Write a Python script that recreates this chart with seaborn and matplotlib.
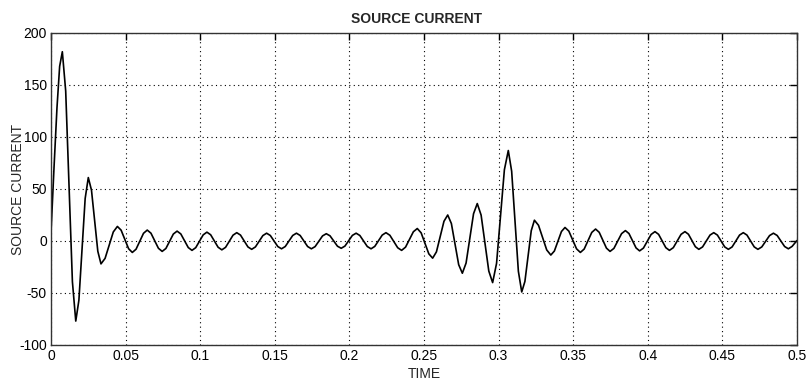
import matplotlib
matplotlib.use("Agg")
import matplotlib.pyplot as plt
import seaborn as sns
import pandas as pd

# Time (s) and source current values
time_s = [
    0.0, 0.002, 0.004, 0.0058, 0.0076,
    0.00985, 0.0121, 0.01435, 0.0166,
    0.0187, 0.0208, 0.0229, 0.025,
    0.02713, 0.02925, 0.03138, 0.0335,
    0.03625, 0.039, 0.04175, 0.0445,
    0.047, 0.0495, 0.052, 0.0545,
    0.057, 0.0595, 0.062, 0.0645,
    0.067, 0.0695, 0.072, 0.0745,
    0.077, 0.0795, 0.082, 0.0845,
    0.087, 0.0895, 0.092, 0.0945,
    0.097, 0.0995, 0.102, 0.1045,
    0.107, 0.1095, 0.112, 0.1145,
    0.117, 0.1195, 0.122, 0.1245,
    0.127, 0.1295, 0.132, 0.1345,
    0.137, 0.1395, 0.142, 0.1445,
    0.147, 0.1495, 0.152, 0.1545,
    0.157, 0.1595, 0.162, 0.1645,
    0.167, 0.1695, 0.172, 0.1745,
    0.177, 0.1795, 0.182, 0.1845,
    0.187, 0.1895, 0.192, 0.1945,
    0.197, 0.1995, 0.202, 0.2045,
    0.207, 0.2095, 0.212, 0.2145,
    0.217, 0.2195, 0.222, 0.2245,
    0.22713, 0.22975, 0.23238, 0.235,
    0.23763, 0.24025, 0.24288, 0.2455,
    0.24808, 0.25065, 0.25323, 0.2558,
    0.25833, 0.26085, 0.26338, 0.2659,
    0.26835, 0.2708, 0.27325, 0.2757,
    0.2782, 0.2807, 0.2832, 0.2857,
    0.28828, 0.29085, 0.29343, 0.296,
    0.29863, 0.30125, 0.30388, 0.3065,
    0.30875, 0.311, 0.31325, 0.3155,
    0.31763, 0.31975, 0.32188, 0.324,
    0.32675, 0.3295, 0.33225, 0.335,
    0.33738, 0.33975, 0.34213, 0.3445,
    0.34708, 0.34965, 0.35223, 0.3548,
    0.35735, 0.3599, 0.36245, 0.365,
    0.36743, 0.36985, 0.37228, 0.3747,
    0.37728, 0.37985, 0.38243, 0.385,
    0.38738, 0.38975, 0.39213, 0.3945,
    0.39708, 0.39965, 0.40223, 0.4048,
    0.40723, 0.40965, 0.41208, 0.4145,
    0.4171, 0.4197, 0.4223, 0.4249,
    0.42723, 0.42955, 0.43188, 0.4342,
    0.4367, 0.4392, 0.4417, 0.4442,
    0.44665, 0.4491, 0.45155, 0.454,
    0.4565, 0.459, 0.4615, 0.464,
    0.46645, 0.4689, 0.47135, 0.4738,
    0.4764, 0.479, 0.4816, 0.4842,
    0.4867, 0.4892, 0.4917, 0.4942,
    0.4967, 0.5,
]
current_a = [
    8, 70, 128, 168, 182,
    144.2, 52.5, -39.2, -77,
    -56.9, -8, 40.9, 61,
    48.9, 19.5, -9.9, -22,
    -16.7, -4, 8.7, 14,
    10.4, 1.5, -7.4, -11,
    -7.9, -0.25, 7.4, 10.5,
    7.5, 0.25, -7.0, -10,
    -7.2, -0.25, 6.7, 9.5,
    6.8, 0.25, -6.3, -9,
    -6.4, -0.25, 5.9, 8.5,
    6.0, 0, -6.0, -8.5,
    -6.1, -0.25, 5.6, 8,
    5.7, 0, -5.7, -8,
    -5.7, -0.25, 5.2, 7.5,
    5.3, 0, -5.3, -7.5,
    -5.3, 0, 5.3, 7.5,
    5.3, 0, -5.3, -7.5,
    -5.4, -0.25, 4.9, 7,
    5.0, 0, -5.0, -7,
    -4.9, 0.25, 5.4, 7.5,
    5.3, 0, -5.3, -7.5,
    -5.2, 0.25, 5.7, 8,
    5.5, -0.5, -6.5, -9,
    -5.9, 1.5, 8.9, 12,
    7.85, -2.25, -12.35, -16.5,
    -10.45, 4.25, 18.95, 25,
    16.8, -3, -22.8, -31,
    -21.2, 2.5, 26.2, 36,
    24.9, -2, -28.9, -40,
    -21.5, 23.5, 68.5, 87,
    67.1, 19, -29.1, -49,
    -38.9, -14.5, 9.9, 20,
    15.1, 3.25, -8.6, -13.5,
    -9.65, -0.25, 9.15, 13,
    9.5, 1, -7.5, -11,
    -7.75, 0.25, 8.25, 11.5,
    8.35, 0.75, -6.85, -10,
    -7.1, 0, 7.1, 10,
    7.15, 0.25, -6.65, -9.5,
    -6.8, -0.25, 6.3, 9,
    6.4, 0, -6.4, -9,
    -6.4, 0, 6.4, 9,
    6.5, 0.5, -5.5, -8,
    -5.7, 0, 5.7, 8,
    5.7, 0, -5.7, -8,
    -5.7, 0, 5.7, 8,
    5.7, 0, -5.7, -8,
    -5.7, -0.25, 5.2, 7.5,
    5.3, 0, -5.3, -7.5,
    -5.2, 0.5,
]

x_ticks = [0, 0.05, 0.1, 0.15, 0.2, 0.25, 0.3, 0.35, 0.4, 0.45, 0.5]
x_tick_labels = ["0", "0.05", "0.1", "0.15", "0.2", "0.25", "0.3", "0.35", "0.4", "0.45", "0.5"]
y_ticks = [-100, -50, 0, 50, 100, 150, 200]
y_tick_labels = ["-100", "-50", "0", "50", "100", "150", "200"]

sns.set_style("white")
plt.rcParams["font.family"] = ["Liberation Sans", "DejaVu Sans"]

df = pd.DataFrame({"TIME": time_s, "SOURCE CURRENT": current_a})

fig = plt.figure(figsize=(8.08, 3.83), dpi=100)
ax = fig.add_axes([51 / 808, 1 - 345 / 383, 746 / 808, 312 / 383])

sns.lineplot(data=df, x="TIME", y="SOURCE CURRENT", color="black",
             linewidth=1.2, estimator=None, sort=False, ax=ax)

ax.set_xlim(0, 0.5)
ax.set_ylim(-100, 200)
ax.set_xticks(x_ticks)
ax.set_xticklabels(x_tick_labels)
ax.set_yticks(y_ticks)
ax.set_yticklabels(y_tick_labels)

ax.grid(True, color="black", linestyle=(0, (1, 3)), linewidth=0.8)
ax.tick_params(direction="in", length=5, width=1, top=True, right=True,
               labelsize=10, colors="black", pad=3)
for s in ax.spines.values():
    s.set_color("#333333")
    s.set_linewidth(1.0)
    s.set_visible(True)

ax.set_xlabel("TIME", fontsize=10, labelpad=3)
ax.set_ylabel("SOURCE CURRENT", fontsize=10)
ax.yaxis.set_label_coords(-0.035, 0.5)
ax.set_title("SOURCE CURRENT", fontsize=10, fontweight="bold", pad=7, x=0.49)

fig.savefig("out.png", dpi=100, facecolor="white")
